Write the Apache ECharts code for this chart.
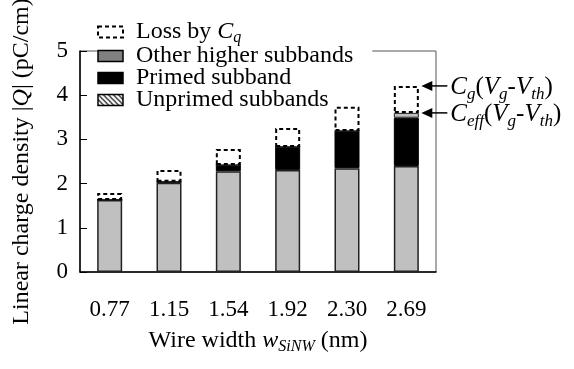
<!DOCTYPE html>
<html><head><meta charset="utf-8">
<script src="https://cdn.jsdelivr.net/npm/echarts@6/dist/echarts.min.js"></script>
<style>html,body{margin:0;padding:0;background:#fff}#c{width:574px;height:369px}</style>
</head><body><div id="c"></div>
<script>
const categories = ['0.77', '1.15', '1.54', '1.92', '2.30', '2.69'];
const unprimed = [1.63, 2.02, 2.28, 2.31, 2.35, 2.40];
const primed = [0, 0.02, 0.14, 0.52, 0.84, 1.09];
const otherHigher = [0, 0, 0, 0, 0, 0.11];
const lossByCq = [0.16, 0.27, 0.36, 0.43, 0.55, 0.61];
const yTicks = [0, 1, 2, 3, 4, 5];

const FONT = '"Liberation Serif", "Times New Roman", serif';

// hatch pattern for the legend icon of unprimed subbands
const pc = document.createElement('canvas');
pc.width = 5; pc.height = 5;
const px = pc.getContext('2d');
px.fillStyle = '#fff'; px.fillRect(0, 0, 5, 5);
px.strokeStyle = '#000'; px.lineWidth = 1.2;
px.beginPath();
px.moveTo(-1, -1); px.lineTo(6, 6);
px.moveTo(-1, 4); px.lineTo(1, 6);
px.moveTo(4, -1); px.lineTo(6, 1);
px.stroke();

const chart = echarts.init(document.getElementById('c'), null, {renderer: 'canvas'});

function styles(size, subSize, subDrop, lh) {
  lh = lh || 22;
  return {
    t: {fontFamily: FONT, fontSize: size, color: '#000', lineHeight: lh},
    n: {fontFamily: FONT, fontSize: size, color: '#000', lineHeight: lh},
    i: {fontFamily: FONT, fontSize: size, fontStyle: 'italic', color: '#000', lineHeight: lh},
    s: {fontFamily: FONT, fontSize: subSize, fontStyle: 'italic', color: '#000', lineHeight: 8, padding: [subDrop, 0, 0, 0]}
  };
}

const yMax = yTicks[yTicks.length - 1];

chart.setOption({
  animation: false,
  backgroundColor: '#fff',
  grid: {left: 80, right: 138, top: 51, bottom: 97, show: true, borderColor: '#555', borderWidth: 1,
    backgroundColor: 'transparent', containLabel: false, outerBoundsMode: 'none'},
  legend: {
    orient: 'vertical',
    left: 97, top: 14,
    padding: [4, 19, 0, 0],
    backgroundColor: '#fff',
    itemWidth: 25, itemHeight: 11,
    itemGap: -2,
    icon: 'rect',
    z: 1,
    data: [
      {name: 'Loss by Cq', itemStyle: {color: '#fff', borderColor: '#000', borderWidth: 2, borderType: [4, 3]}},
      {name: 'Other higher subbands', itemStyle: {color: '#808080', borderColor: '#000', borderWidth: 1.5}},
      {name: 'Primed subband', itemStyle: {color: '#000', borderColor: '#000', borderWidth: 1.5}},
      {name: 'Unprimed subbands', itemStyle: {color: {image: pc, repeat: 'repeat'}, borderColor: '#000', borderWidth: 1.5}}
    ],
    formatter: function (name) {
      if (name === 'Loss by Cq') return '{t|Loss by }{i|C}{s|q}';
      return '{t|' + name + '}';
    },
    textStyle: {fontFamily: FONT, fontSize: 24, color: '#000', padding: [0, 0, 0, 8], lineHeight: 20,
      rich: styles(24, 16, 12, 20)}
  },
  xAxis: {
    type: 'category',
    data: categories,
    boundaryGap: true,
    axisLine: {lineStyle: {color: '#000', width: 1.5}},
    axisTick: {inside: true, length: 7, lineStyle: {color: '#000', width: 1}},
    axisLabel: {fontFamily: FONT, fontSize: 23, color: '#000', margin: 26},
    name: '{t|Wire width }{i|w}{s|SiNW}{t| (nm)}',
    nameLocation: 'middle',
    nameGap: 56,
    nameTextStyle: {rich: styles(24, 16, 13)}
  },
  yAxis: {
    type: 'value',
    min: yTicks[0], max: yMax, interval: 1,
    splitLine: {show: false},
    axisLine: {show: true, lineStyle: {color: '#000', width: 1.5}},
    axisTick: {show: true, inside: true, length: 7, lineStyle: {color: '#000', width: 1}},
    axisLabel: {fontFamily: FONT, fontSize: 23, color: '#000', margin: 12},
    name: '{t|Linear charge density |}{i|Q}{t|| (pC/cm)}',
    nameLocation: 'middle',
    nameRotate: 90,
    nameGap: 47,
    nameTextStyle: {rich: styles(24, 16, 12)}
  },
  series: [
    {name: 'Unprimed subbands', type: 'bar', stack: 'q', data: unprimed, barWidth: 25,
      itemStyle: {color: '#c0c0c0', borderColor: '#222', borderWidth: 1.5}, emphasis: {disabled: true}},
    {name: 'Primed subband', type: 'bar', stack: 'q', data: primed, barWidth: 25,
      itemStyle: {color: '#000', borderColor: '#000', borderWidth: 1}, emphasis: {disabled: true}},
    {name: 'Other higher subbands', type: 'bar', stack: 'q', data: otherHigher, barWidth: 25,
      itemStyle: {color: '#c0c0c0', borderColor: '#222', borderWidth: 1}, emphasis: {disabled: true}},
    {name: 'Loss by Cq', type: 'bar', stack: 'q', data: lossByCq, barWidth: 25,
      itemStyle: {color: 'rgba(0,0,0,0)', borderColor: '#000', borderWidth: 2, borderType: [4, 3]}, emphasis: {disabled: true}}
  ]
});

// annotations for the last bar
const last = categories.length - 1;
const ceff = unprimed[last] + primed[last] + otherHigher[last];
const cg = ceff + lossByCq[last];
const xc = chart.convertToPixel({xAxisIndex: 0}, categories[last]);
const yCg = chart.convertToPixel({yAxisIndex: 0}, cg);
const yCeff = chart.convertToPixel({yAxisIndex: 0}, ceff);
const tipX = xc + 15, tailX = xc + 41;
function arrow(y) {
  return [
    {type: 'line', shape: {x1: tipX + 8, y1: y, x2: tailX, y2: y}, style: {stroke: '#000', lineWidth: 1.5}, z: 20},
    {type: 'polygon', shape: {points: [[tipX, y], [tipX + 11, y - 5], [tipX + 11, y + 5]]}, style: {fill: '#000'}, z: 20}
  ];
}
const annRich = styles(25, 17, 13);
chart.setOption({
  graphic: [].concat(arrow(yCg), arrow(yCeff), [
    {type: 'text', left: tailX + 3, top: yCg - 13, z: 20,
      style: {text: '{i|C}{s|g}{n|(}{i|V}{s|g}{n|-}{i|V}{s|th}{n|)}', rich: annRich}},
    {type: 'text', left: tailX + 3, top: yCeff - 13, z: 20,
      style: {text: '{i|C}{s|eff}{n|(}{i|V}{s|g}{n|-}{i|V}{s|th}{n|)}', rich: annRich}}
  ])
});
</script>
</body></html>
